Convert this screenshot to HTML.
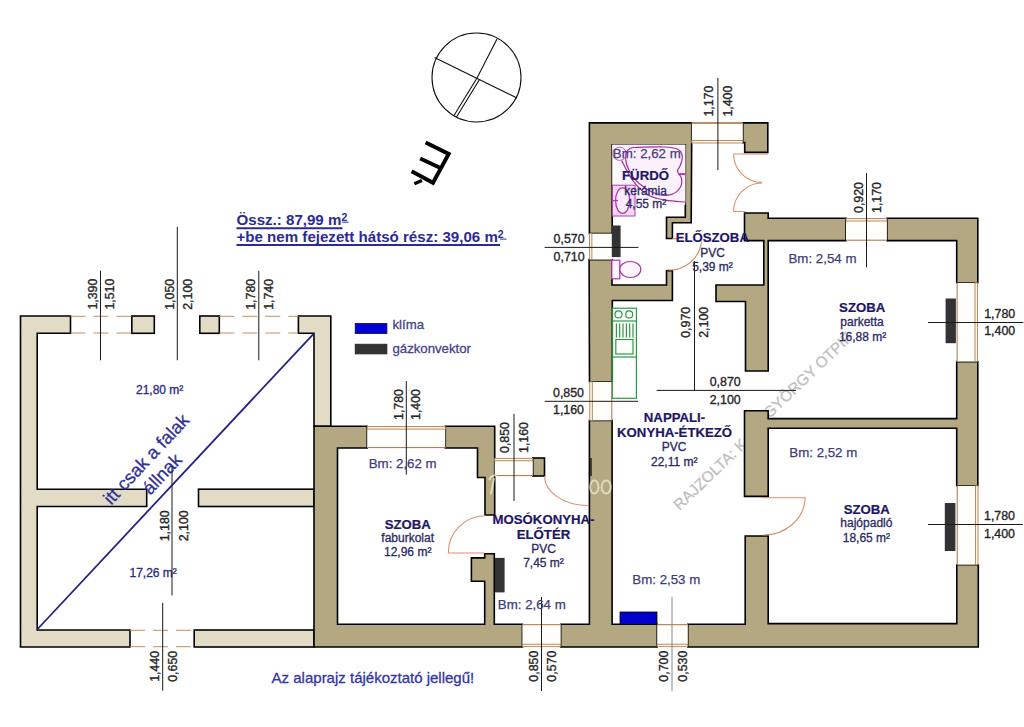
<!DOCTYPE html>
<html><head><meta charset="utf-8">
<style>
html,body{margin:0;padding:0;background:#fff;width:1024px;height:727px;overflow:hidden}
svg{display:block}
text{font-family:"Liberation Sans",sans-serif}
.w{fill:#b3a882;stroke:#000;stroke-width:1.6;stroke-linejoin:miter}
.lw{fill:#e2dcc7;stroke:#000;stroke-width:1.6}
.dim{stroke:#1a1a1a;stroke-width:1;fill:none}
.dt{font-size:12.4px;fill:#262626;stroke:#262626;stroke-width:0.35}
.win{stroke:#e0a070;stroke-width:1;fill:none}
.dash{stroke:#c98c5c;stroke-width:1;fill:none;stroke-dasharray:15 8}
.door{stroke:#d9906a;stroke-width:1.1;fill:none}
.rn{font-size:13.2px;font-weight:bold;fill:#1c1666;stroke:#1c1666;stroke-width:0.2}
.rs{font-size:12px;fill:#2a2a66;stroke:#2a2a66;stroke-width:0.3}
.bm{font-size:13.3px;fill:#3e3c7c;stroke:#3e3c7c;stroke-width:0.25}
.mg{stroke:#b030b0;stroke-width:1.2;fill:#fdf6fd}
.gr{stroke:#2a9a40;stroke-width:1.2;fill:none}
</style></head>
<body>
<svg width="1024" height="727" viewBox="0 0 1024 727">
<rect width="1024" height="727" fill="#fff"/>

<!-- compass -->
<g stroke="#111" fill="none" stroke-width="1.1">
<circle cx="476.5" cy="77.5" r="44.5"/>
<line x1="434.5" y1="57.5" x2="517" y2="98"/>
<line x1="497" y1="39" x2="477" y2="78"/>
<path d="M477,78 L454,115.5 M479.5,79.5 L456.5,117"/>
</g>
<!-- É rotated -->
<g stroke="#000" fill="none" stroke-width="3.9" stroke-linecap="butt" stroke-linejoin="miter">
<path d="M425.6,142.4 L448.7,153.9 L433,182.8 L411.6,171.3 M420.2,158.5 L441,168.3"/>
<path d="M414.4,183.8 L421.9,180.5" stroke-width="3.4"/>
</g>

<!-- summary text -->
<g font-weight="bold" font-size="15.1" fill="#2b2b96">
<text x="236.5" y="225.3">Össz.: 87,99 m<tspan font-size="10.5" dy="-3.9">2</tspan></text>
<text x="236.5" y="242.2">+be nem fejezett hátsó rész: 39,06 m<tspan font-size="10.5" dy="-3.9">2</tspan></text>
</g>
<g stroke="#2b2b96">
<line x1="236.5" y1="228.2" x2="342.5" y2="228.2" stroke-width="2"/>
<line x1="342.2" y1="222.2" x2="348.6" y2="222.2" stroke-width="1"/>
<line x1="236.5" y1="245.1" x2="500" y2="245.1" stroke-width="2"/>
<line x1="500" y1="239.1" x2="506.5" y2="239.1" stroke-width="1"/>
</g>
<!-- legend -->
<rect x="355.2" y="323.4" width="31.7" height="10.2" fill="#0000d4" stroke="#101050" stroke-width="0.8"/>
<rect x="355.2" y="344.2" width="31.7" height="9.7" fill="#333" stroke="#222" stroke-width="0.8"/>
<g font-size="13.2" fill="#44448c" stroke="#44448c" stroke-width="0.3"><text x="392.5" y="329">klíma</text>
<text x="392.5" y="352.5">gázkonvektor</text></g>

<!-- LEFT ANNEX (light walls) -->
<g class="lw">
<path d="M20.5,316 L70.5,316 L70.5,333.3 L37.2,333.3 L37.2,489.2 L146.7,489.2 L146.7,506.5 L37.2,506.5 L37.2,630 L130,630 L130,647 L20.5,647 Z"/>
<rect x="131.8" y="316" width="22.5" height="17.3"/>
<rect x="199.8" y="316" width="19.5" height="17.3"/>
<path d="M298.4,316 L330.8,316 L330.8,426.3 L314,426.3 L314,333.3 L298.4,333.3 Z"/>
<rect x="198.5" y="489.2" width="115.5" height="17.3"/>
<rect x="194.2" y="630" width="119.8" height="17"/>
</g>
<g class="dash">
<line x1="70.5" y1="316.3" x2="131.8" y2="316.3"/>
<line x1="70.5" y1="333" x2="131.8" y2="333"/>
<line x1="219.3" y1="316.3" x2="298.4" y2="316.3"/>
<line x1="219.3" y1="333" x2="298.4" y2="333"/>
<line x1="130" y1="630.3" x2="194.2" y2="630.3"/>
<line x1="130" y1="646.7" x2="194.2" y2="646.7"/>
</g>
<!-- diagonal -->
<line x1="37.2" y1="629.5" x2="314" y2="333.3" stroke="#22228a" stroke-width="1.8"/>
<g fill="#30309a" stroke="#30309a" stroke-width="0.3" font-size="18.3">
<text transform="translate(150.8,463.4) rotate(-46.9)" text-anchor="middle">itt csak a falak</text>
<text transform="translate(166.6,478.2) rotate(-46.9)" text-anchor="middle">állnak</text>
</g>
<text x="136" y="394.3" font-size="12" fill="#2a2a84" stroke="#2a2a84" stroke-width="0.3">21,80 m²</text>
<text x="129.5" y="577.2" font-size="12" fill="#2a2a84" stroke="#2a2a84" stroke-width="0.3">17,26 m²</text>
<text x="271.6" y="683" font-size="15" fill="#3434a4" stroke="#3434a4" stroke-width="0.3">Az alaprajz tájékoztató jellegű!</text>

<!-- watermark -->
<g font-size="15.3" fill="#c0c0c0" stroke="#c0c0c0" stroke-width="0.3">
<text transform="translate(679.5,511) rotate(-43.75)">RAJZOLTA: K</text>
<text transform="translate(769.5,419) rotate(-43.75)">GYÖRGY OTPIF</text>
</g>
<!-- MAIN BUILDING walls -->
<g class="w">
<!-- SZOBA faburkolat left/bottom -->
<path d="M314,426.3 L367.2,426.3 L367.2,448 L337.5,448 L337.5,624.3 L484.7,624.3 L484.7,581.3 L471.4,581.3 L471.4,557.9 L484.7,557.9 L484.7,553.8 L494.3,553.8 L494.3,624.3 L522.4,624.3 L522.4,647 L314,647 Z"/>
<!-- top right wall of faburkolat -->
<path d="M445.3,426.3 L494.7,426.3 L494.7,515 L485,515 L485,477.5 L477.5,477.5 L477.5,448 L445.3,448 Z"/>
<rect x="532.8" y="458" width="11.7" height="18"/>
<!-- bathroom + left wall top -->
<path d="M589.4,122.9 L691.8,122.9 L691.2,222.7 L672.4,222.7 L672.4,238.5 L666.5,238.5 L666.5,217.3 L685.3,217.3 L685.3,144.7 L612.2,144.7 L612.2,233.6 L589.4,233.6 Z"/>
<!-- WC bottom wall + left wall -->
<path d="M589.1,259.6 L612,259.6 L612,285 L666.5,285 L666.5,270.7 L672.4,270.7 L672.4,300.5 L612.3,300.5 L612.3,381.8 L589.5,381.8 Z"/>
<!-- nappali left wall lower + bottom -->
<path d="M589.4,420.4 L612.1,420.4 L612.1,624.3 L657.2,624.3 L657.2,647 L560.7,647 L560.7,624.3 L589.4,624.3 Z"/>
<!-- bottom right -->
<path d="M687.8,624.3 L745.2,624.3 L745.2,536 L768.2,536 L768.2,623.6 L956.8,623.6 L956.8,564.7 L978.3,564.7 L978.3,647 L687.8,647 Z"/>
<!-- middle wall -->
<path d="M744.5,410.7 L768.2,410.7 L768.2,418.6 L956.7,418.6 L956.7,361.6 L977.8,361.6 L977.8,485.8 L956.7,485.8 L956.7,428.3 L768.2,428.3 L768.2,496.4 L744.5,496.4 Z"/>
<!-- parketta top-left + L block -->
<path d="M744.5,213 L768.2,213 L768.2,218.2 L846,218.2 L846,240.6 L768.2,240.6 L768.2,371 L745.5,371 L745.5,301.5 L716,301.5 L716,285 L763.8,285 L763.8,240.6 L744.5,240.6 Z"/>
<!-- parketta top-right -->
<path d="M886.9,218.2 L977.8,218.2 L977.8,282.8 L956.7,282.8 L956.7,240.6 L886.9,240.6 Z"/>
<!-- pier top entrance -->
<path d="M742.8,122.9 L767.8,122.9 L767.8,152.4 L744.7,152.4 L744.7,142.6 L742.8,142.6 Z"/>
</g>

<!-- windows -->
<g>
<rect x="367.2" y="426.3" width="78.1" height="21.7" fill="#fffefb"/>
<rect x="367.2" y="426.6" width="78.1" height="2.5" fill="#fdf4e2" stroke="#a87345" stroke-width="0.8"/>
<line x1="367.2" y1="447.6" x2="445.3" y2="447.6" stroke="#a87345" stroke-width="1"/>
<rect x="494.7" y="458" width="38.1" height="18.0" fill="#fffefb"/>
<rect x="494.7" y="458.3" width="38.1" height="2.5" fill="#fdf4e2" stroke="#a87345" stroke-width="0.8"/>
<line x1="494.7" y1="475.6" x2="532.8" y2="475.6" stroke="#a87345" stroke-width="1"/>
<rect x="522.4" y="624.3" width="38.3" height="22.7" fill="#fffefb"/>
<rect x="522.4" y="644.2" width="38.3" height="2.5" fill="#fdf4e2" stroke="#a87345" stroke-width="0.8"/>
<line x1="522.4" y1="624.7" x2="560.7" y2="624.7" stroke="#a87345" stroke-width="1"/>
<rect x="657.2" y="624.3" width="30.6" height="22.7" fill="#fffefb"/>
<rect x="657.2" y="644.2" width="30.6" height="2.5" fill="#fdf4e2" stroke="#a87345" stroke-width="0.8"/>
<line x1="657.2" y1="624.7" x2="687.8" y2="624.7" stroke="#a87345" stroke-width="1"/>
<rect x="691.8" y="122.4" width="51.0" height="20.9" fill="#fffefb"/>
<rect x="691.8" y="140.5" width="51.0" height="2.5" fill="#fdf4e2" stroke="#a87345" stroke-width="0.8"/>
<line x1="691.8" y1="122.8" x2="742.8" y2="122.8" stroke="#a87345" stroke-width="1"/>
<rect x="846" y="218.2" width="40.9" height="22.4" fill="#fffefb"/>
<rect x="846" y="218.5" width="40.9" height="2.5" fill="#fdf4e2" stroke="#a87345" stroke-width="0.8"/>
<line x1="846" y1="240.2" x2="886.9" y2="240.2" stroke="#a87345" stroke-width="1"/>
<rect x="589.1" y="233.6" width="22.9" height="26.0" fill="#fffefb"/>
<rect x="589.4" y="233.6" width="2.5" height="26.0" fill="#fdf4e2" stroke="#a87345" stroke-width="0.8"/>
<rect x="589.5" y="381.8" width="22.7" height="38.6" fill="#fffefb"/>
<rect x="589.8" y="381.8" width="2.5" height="38.6" fill="#fdf4e2" stroke="#a87345" stroke-width="0.8"/>
<line x1="611.8" y1="381.8" x2="611.8" y2="420.4" stroke="#a87345" stroke-width="1"/>
<rect x="956.7" y="282.8" width="21.1" height="78.8" fill="#fffefb"/>
<rect x="975.0" y="282.8" width="2.5" height="78.8" fill="#fdf4e2" stroke="#a87345" stroke-width="0.8"/>
<line x1="957.1" y1="282.8" x2="957.1" y2="361.6" stroke="#a87345" stroke-width="1"/>
<rect x="956.8" y="485.8" width="21.5" height="78.9" fill="#fffefb"/>
<rect x="975.5" y="485.8" width="2.5" height="78.9" fill="#fdf4e2" stroke="#a87345" stroke-width="0.8"/>
<line x1="957.2" y1="485.8" x2="957.2" y2="564.7" stroke="#a87345" stroke-width="1"/>
</g>
<line x1="691.8" y1="123.2" x2="742.8" y2="123.2" stroke="#a87345" stroke-width="1"/>
<line x1="591" y1="458" x2="591" y2="476" stroke="#000" stroke-width="1.2"/>
<!-- doors -->
<g class="door">
<path d="M733.6,154 L768,154 M733.6,154 A28.4,28.4 0 0 0 762,182.4"/>
<path d="M733.6,211.5 L745.4,211.5 M733.6,211.5 A28.4,28.4 0 0 1 762,183"/>
<path d="M672.4,238.6 L679,238.6 M701.5,241.6 A32,32 0 0 1 666.9,269.8"/>
<path d="M761.6,497.8 L805.2,497.8 A42,38 0 0 1 763,535"/>
<path d="M448.3,553 L484.7,553 M448.3,553 A37,37 0 0 1 485.4,515.7"/>
<path d="M544.5,476 A44,29.5 0 0 0 588.4,505.5"/>
</g>

<!-- radiators / klima -->
<g fill="#333">
<rect x="611.8" y="225.5" width="8.8" height="31.6"/>
<rect x="945.6" y="298.5" width="10.3" height="44.7"/>
<rect x="944.8" y="503" width="10.6" height="48"/>
<rect x="495" y="557.9" width="9.6" height="34.5"/>
</g>
<rect x="620" y="612" width="37" height="12.3" fill="#0000cc" stroke="#000" stroke-width="0.8"/>

<!-- bathroom fixtures -->
<g>
<rect x="612.2" y="144.7" width="73.1" height="60" fill="#fdf8fd"/>
<path d="M612.2,144.7 L685.3,144.7 L685.3,202 C675,201 660,199 648,195 C640,190 630,180 621.6,160.6 L612.2,148 Z" fill="#fbf1fb"/>
<path d="M621.6,160.6 C623.5,164.0 628.6,175.2 633.0,180.9 C637.4,186.6 642.6,191.8 648.0,195.0 C653.4,198.2 659.4,199.0 665.6,200.2 C671.8,201.4 681.8,201.7 685.0,202.0" fill="none" stroke="#a030a0" stroke-width="1.2"/>
<path d="M637.4,147.4 C643.0,147.2 657.0,146.7 663.8,147.0 C670.5,147.3 674.8,147.7 677.9,149.2 C681.0,150.7 681.9,153.6 682.3,156.2 C682.7,158.8 681.3,162.5 680.5,165.0 C679.7,167.5 677.4,169.0 677.5,171.2 C677.6,173.4 680.9,175.6 681.4,178.2 C681.9,180.8 682.0,184.4 680.5,187.0 C679.0,189.6 676.0,192.7 672.6,194.0 C669.2,195.3 664.7,195.9 660.3,195.0 C655.9,194.1 650.6,191.6 646.2,188.8 C641.8,186.0 637.1,182.2 633.9,178.2 C630.7,174.2 628.1,169.1 626.8,165.0 C625.5,160.9 625.4,156.4 626.0,153.6 C626.6,150.8 628.5,149.3 630.4,148.3 C632.3,147.3 631.8,147.6 637.4,147.4 Z" fill="none" stroke="#a030a0" stroke-width="1.2"/>
<circle cx="619.6" cy="153.8" r="6.6" fill="none" stroke="#b050b0" stroke-width="0.9"/>
<line x1="678.5" y1="174.1" x2="685" y2="174.1" stroke="#c030c0" stroke-width="2"/>
<rect x="612.5" y="185.2" width="22.5" height="30.8" fill="#f4d8f4" stroke="#b040b0" stroke-width="1"/>
<ellipse cx="622.6" cy="200.6" rx="7" ry="12.8" fill="#fbeefb" stroke="#b030b0" stroke-width="1.2"/>
<line x1="613" y1="200.6" x2="618" y2="200.6" stroke="#c030c0" stroke-width="1.2"/>
<rect x="611.8" y="260.2" width="8" height="18.6" class="mg"/>
<ellipse cx="630.3" cy="269.5" rx="10.5" ry="8" class="mg"/>
</g>
<!-- kitchen -->
<g class="gr">
<rect x="612.3" y="308.2" width="24.1" height="90.1"/>
<line x1="612.3" y1="321" x2="636.4" y2="321"/>
<line x1="612.3" y1="357" x2="636.4" y2="357"/>
<circle cx="618.5" cy="314.4" r="3.5"/>
<circle cx="629.2" cy="314.4" r="3.5"/>
<path d="M616.4,323.5 V337.5 M619.7,323.5 V337.5 M623,323.5 V337.5 M626.4,323.5 V337.5 M629.7,323.5 V337.5 M633,323.5 V337.5"/>
<rect x="615.8" y="339.5" width="17.2" height="14.5"/>
</g>

<!-- faint logo watermark -->
<g fill="none" stroke="#fffbe8" stroke-opacity="0.6" stroke-width="2">
<ellipse cx="594.3" cy="487" rx="4.2" ry="6.6"/>
<ellipse cx="606.2" cy="487" rx="4.6" ry="6.6"/>
<path d="M494.2,478 L490.8,494.3 M489,480 C491,476 494,475 497,476"/>
</g>
<!-- dimension lines -->
<g class="dim">
<line x1="100.5" y1="270.7" x2="100.5" y2="360.3"/>
<line x1="177.3" y1="226.8" x2="177.3" y2="360.3"/>
<line x1="258.8" y1="270.8" x2="258.8" y2="360.3"/>
<line x1="172" y1="466" x2="172" y2="595.5"/>
<line x1="162.7" y1="602.8" x2="162.7" y2="690.7"/>
<line x1="406.3" y1="381" x2="406.3" y2="474.7"/>
<line x1="514" y1="413.8" x2="514" y2="501"/>
<line x1="541.5" y1="597" x2="541.5" y2="691"/>
<line x1="672" y1="597" x2="672" y2="691" stroke="#888"/>
<line x1="717.9" y1="77.8" x2="717.9" y2="170.2"/>
<line x1="866.5" y1="173.2" x2="866.5" y2="267.3"/>
<line x1="694.5" y1="261" x2="694.5" y2="390.4"/>
<line x1="656.6" y1="390.4" x2="796" y2="390.4"/>
<line x1="544.7" y1="401.3" x2="638" y2="401.3"/>
<line x1="544.7" y1="247.4" x2="638.4" y2="247.4"/>
<line x1="928" y1="322.5" x2="1023.4" y2="322.5"/>
<line x1="928" y1="524.5" x2="1022.8" y2="524.5"/>
</g>
<g class="dt">
<text transform="translate(97.3,309.6) rotate(-90)">1,390</text>
<text transform="translate(114.2,309.6) rotate(-90)">1,510</text>
<text transform="translate(174,309.8) rotate(-90)">1,050</text>
<text transform="translate(191.5,309.8) rotate(-90)">2,100</text>
<text transform="translate(255,309.8) rotate(-90)">1,780</text>
<text transform="translate(272.5,309.8) rotate(-90)">1,740</text>
<text transform="translate(168.6,541.3) rotate(-90)">1,180</text>
<text transform="translate(187.6,541.3) rotate(-90)">2,100</text>
<text transform="translate(158.7,681.8) rotate(-90)">1,440</text>
<text transform="translate(176.9,681.8) rotate(-90)">0,650</text>
<text transform="translate(402.7,420) rotate(-90)">1,780</text>
<text transform="translate(419.9,420) rotate(-90)">1,400</text>
<text transform="translate(509,453) rotate(-90)">0,850</text>
<text transform="translate(527.7,453) rotate(-90)">1,160</text>
<text transform="translate(537.6,681.7) rotate(-90)">0,850</text>
<text transform="translate(555.9,681.7) rotate(-90)">0,570</text>
<text transform="translate(668.1,681.7) rotate(-90)">0,700</text>
<text transform="translate(686.6,681.7) rotate(-90)">0,530</text>
<text transform="translate(713.3,116.6) rotate(-90)">1,170</text>
<text transform="translate(731.7,116.6) rotate(-90)">1,400</text>
<text transform="translate(862.5,213) rotate(-90)">0,920</text>
<text transform="translate(880.8,213) rotate(-90)">1,170</text>
<text transform="translate(690.2,337.8) rotate(-90)">0,970</text>
<text transform="translate(707.7,337.8) rotate(-90)">2,100</text>
<text x="709.7" y="386.1">0,870</text>
<text x="709.7" y="404.1">2,100</text>
<text x="553" y="396.8">0,850</text>
<text x="553" y="414.3">1,160</text>
<text x="553.6" y="242.9">0,570</text>
<text x="553.6" y="260.7">0,710</text>
<text x="984.2" y="317.6">1,780</text>
<text x="984.2" y="335.2">1,400</text>
<text x="984" y="520.3">1,780</text>
<text x="984" y="538">1,400</text>
</g>

<!-- room labels -->
<g text-anchor="middle">
<text class="bm" x="646.8" y="158.4" style="fill:#4a3a80;stroke:#4a3a80">Bm: 2,62 m</text>
<text class="rn" x="645.5" y="180.2">FÜRDŐ</text>
<text class="rs" x="645.6" y="195">kerámia</text>
<text class="rs" x="646" y="208.2">4,55 m²</text>

<text class="rn" x="712.3" y="241.6">ELŐSZOBA</text>
<text class="rs" x="712.7" y="257">PVC</text>
<text class="rs" x="712.5" y="271">5,39 m²</text>

<text class="rn" x="862.2" y="311.7">SZOBA</text>
<text class="rs" x="862" y="325.7">parketta</text>
<text class="rs" x="862.6" y="340.6">16,88 m²</text>

<text class="rn" x="674.5" y="421.9">NAPPALI-</text>
<text class="rn" x="674.6" y="437">KONYHA-ÉTKEZŐ</text>
<text class="rs" x="674.2" y="451.3">PVC</text>
<text class="rs" x="674.2" y="465.6">22,11 m²</text>

<text class="rn" x="866.8" y="514">SZOBA</text>
<text class="rs" x="866.4" y="527">hajópadló</text>
<text class="rs" x="866.4" y="542">18,65 m²</text>

<text class="rn" x="407.8" y="529.4">SZOBA</text>
<text class="rs" x="407.7" y="542">faburkolat</text>
<text class="rs" x="407.7" y="555.5">12,96 m²</text>

<text class="rn" x="543.5" y="524">MOSÓKONYHA-</text>
<text class="rn" x="543.5" y="538.5">ELŐTÉR</text>
<text class="rs" x="543.5" y="552.5">PVC</text>
<text class="rs" x="543.5" y="566.6">7,45 m²</text>
</g>
<g class="bm">
<text x="788.5" y="263">Bm: 2,54 m</text>
<text x="789.3" y="456.7">Bm: 2,52 m</text>
<text x="368.7" y="467.5">Bm: 2,62 m</text>
<text x="497.8" y="609.3">Bm: 2,64 m</text>
<text x="632.3" y="583.7">Bm: 2,53 m</text>
</g>

</svg>
</body></html>
